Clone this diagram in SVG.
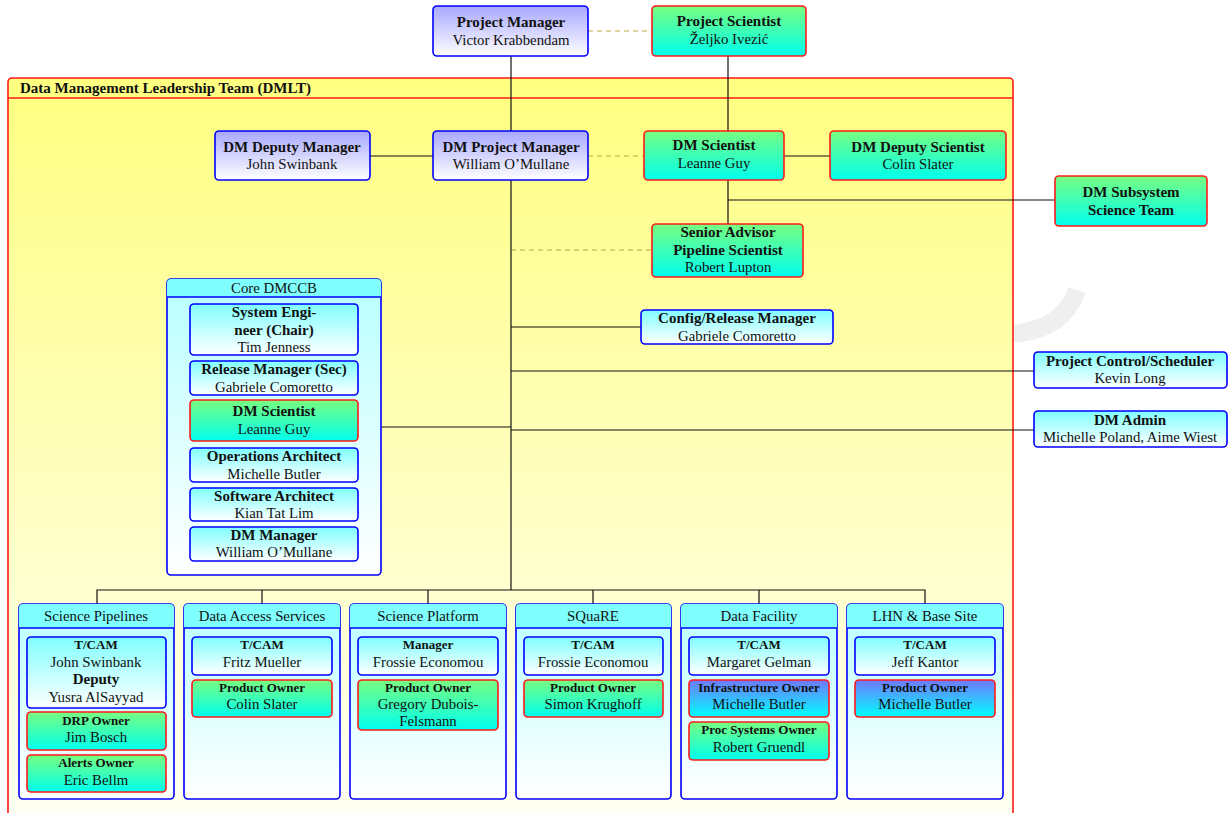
<svg xmlns="http://www.w3.org/2000/svg" width="1231" height="813" viewBox="0 0 1231 813">
<defs>
<linearGradient id="gBlue" x1="0" y1="0" x2="0" y2="1"><stop offset="0" stop-color="#a8a8ff"/><stop offset="1" stop-color="#ffffff"/></linearGradient>
<linearGradient id="gCyan" x1="0" y1="0" x2="0" y2="1"><stop offset="0" stop-color="#80ffff"/><stop offset="1" stop-color="#ffffff"/></linearGradient>
<linearGradient id="gGreen" x1="0" y1="0" x2="0" y2="1"><stop offset="0" stop-color="#78ff80"/><stop offset="1" stop-color="#00ffee"/></linearGradient>
<linearGradient id="gBC" x1="0" y1="0" x2="0" y2="1"><stop offset="0" stop-color="#7078ff"/><stop offset="1" stop-color="#00ffff"/></linearGradient>
<linearGradient id="gCont" x1="0" y1="0" x2="0" y2="1"><stop offset="0" stop-color="#b8ffff"/><stop offset="1" stop-color="#ffffff"/></linearGradient>
<linearGradient id="gDMLT" x1="0" y1="0" x2="0" y2="1"><stop offset="0" stop-color="#ffff80"/><stop offset="1" stop-color="#fffff4"/></linearGradient>
</defs>
<style>
text{font-family:"Liberation Serif","Times New Roman",serif;fill:#111;text-anchor:middle}
.b{font-weight:bold}
.t{font-size:15px}
.r{font-size:14.8px}
.s{font-size:13px}
.bb{stroke:#0000ff;stroke-width:1.6}
.rb{stroke:#ff1a1a;stroke-width:1.6}
.fb{fill:url(#gBlue)}
.fc{fill:url(#gCyan)}
.fg{fill:url(#gGreen)}
.fbc{fill:url(#gBC)}
.con{stroke:#111;stroke-width:1.2;fill:none}
.dash{stroke:#b8a838;stroke-width:1.2;stroke-dasharray:5,4;fill:none}
.hdr{fill:#80ffff}
</style>
<rect width="1231" height="813" fill="#ffffff"/>
<path d="M1010,334 Q1063,331 1077,290" stroke="#efefef" stroke-width="18" fill="none"/>
<g id="dmlt">
<rect x="8" y="78" width="1005" height="745" rx="4" fill="url(#gDMLT)" stroke="#ff1a1a" stroke-width="1.6"/>
<path d="M8,98 H1013" stroke="#ff1a1a" stroke-width="1.6"/>
<text x="20" y="92.5" class="b t" style="text-anchor:start">Data Management Leadership Team (DMLT)</text>
</g>
<g id="connectors">
<path class="con" d="M511,56 V131"/>
<path class="con" d="M728,56 V131"/>
<path class="dash" d="M588,31 H652"/>
<path class="con" d="M370,156 H433"/>
<path class="con" d="M784,156 H830"/>
<path class="dash" d="M588,156 H644"/>
<path class="con" d="M728,180 V224"/>
<path class="con" d="M728,200 H1055"/>
<path class="dash" d="M511,250 H652"/>
<path class="con" d="M511,180 V590"/>
<path class="con" d="M511,327 H641"/>
<path class="con" d="M511,371 H1034"/>
<path class="con" d="M511,430 H1034"/>
<path class="con" d="M381,427 H511"/>
<path class="con" d="M97,604 V590 H925 V604"/>
<path class="con" d="M262,590 V604 M428,590 V604 M593,590 V604 M759,590 V604"/>
</g>
<g id="project-manager">
<rect x="433" y="6" width="155" height="50" rx="4" class="bb fb"/>
<text x="511" y="27" class="b t">Project Manager</text>
<text x="511" y="45" class="r">Victor Krabbendam</text>
</g>
<g id="project-scientist">
<rect x="652" y="6" width="154" height="50" rx="4" class="rb fg"/>
<text x="729" y="26" class="b t">Project Scientist</text>
<text x="729" y="44" class="r">Željko Ivezić</text>
</g>
<g id="dm-deputy-manager">
<rect x="215" y="131" width="155" height="49" rx="4" class="bb fb"/>
<text x="292" y="152" class="b t">DM Deputy Manager</text>
<text x="292" y="169" class="r">John Swinbank</text>
</g>
<g id="dm-project-manager">
<rect x="433" y="131" width="155" height="49" rx="4" class="bb fb"/>
<text x="511" y="152" class="b t">DM Project Manager</text>
<text x="511" y="169" class="r">William O’Mullane</text>
</g>
<g id="dm-scientist">
<rect x="644" y="131" width="140" height="49" rx="4" class="rb fg"/>
<text x="714" y="150" class="b t">DM Scientist</text>
<text x="714" y="168" class="r">Leanne Guy</text>
</g>
<g id="dm-deputy-scientist">
<rect x="830" y="131" width="176" height="49" rx="4" class="rb fg"/>
<text x="918" y="152" class="b t">DM Deputy Scientist</text>
<text x="918" y="169" class="r">Colin Slater</text>
</g>
<g id="dm-subsystem-science-team">
<rect x="1055" y="176" width="152" height="50" rx="4" class="rb fg"/>
<text x="1131" y="197" class="b t">DM Subsystem</text>
<text x="1131" y="215" class="b t">Science Team</text>
</g>
<g id="senior-advisor">
<rect x="652" y="224" width="151" height="53" rx="4" class="rb fg"/>
<text x="728" y="237" class="b t">Senior Advisor</text>
<text x="728" y="255" class="b t">Pipeline Scientist</text>
<text x="728" y="272" class="r">Robert Lupton</text>
</g>
<g id="config-release-manager">
<rect x="641" y="310" width="192" height="34" rx="4" class="bb fc"/>
<text x="737" y="323" class="b t">Config/Release Manager</text>
<text x="737" y="341" class="r">Gabriele Comoretto</text>
</g>
<g id="project-control">
<rect x="1034" y="352" width="193" height="36" rx="4" class="bb fc"/>
<text x="1130" y="366" class="b t">Project Control/Scheduler</text>
<text x="1130" y="383" class="r">Kevin Long</text>
</g>
<g id="dm-admin">
<rect x="1034" y="411" width="193" height="36" rx="4" class="bb fc"/>
<text x="1130" y="425" class="b t">DM Admin</text>
<text x="1130" y="442" class="r">Michelle Poland, Aime Wiest</text>
</g>
<g id="core-dmccb">
<rect x="167" y="279" width="214" height="296" rx="4" fill="url(#gCont)" class="bb"/>
<path d="M167,297 V283 Q167,279 171,279 H377 Q381,279 381,283 V297 Z" class="hdr"/>
<path d="M167,297 H381" class="bb"/>
<text x="274" y="293" class="r">Core DMCCB</text>
<rect x="190" y="304" width="168" height="51" rx="4" class="bb fc"/>
<text x="274" y="317" class="b t">System Engi-</text>
<text x="274" y="335" class="b t">neer (Chair)</text>
<text x="274" y="352" class="r">Tim Jenness</text>
<rect x="190" y="361" width="168" height="34" rx="4" class="bb fc"/>
<text x="274" y="374" class="b t">Release Manager (Sec)</text>
<text x="274" y="392" class="r">Gabriele Comoretto</text>
<rect x="190" y="400" width="168" height="41" rx="4" class="rb fg"/>
<text x="274" y="416" class="b t">DM Scientist</text>
<text x="274" y="434" class="r">Leanne Guy</text>
<rect x="190" y="448" width="168" height="34" rx="4" class="bb fc"/>
<text x="274" y="461" class="b t">Operations Architect</text>
<text x="274" y="479" class="r">Michelle Butler</text>
<rect x="190" y="488" width="168" height="33" rx="4" class="bb fc"/>
<text x="274" y="501" class="b t">Software Architect</text>
<text x="274" y="518" class="r">Kian Tat Lim</text>
<rect x="190" y="527" width="168" height="34" rx="4" class="bb fc"/>
<text x="274" y="540" class="b t">DM Manager</text>
<text x="274" y="557" class="r">William O’Mullane</text>
</g>
<g id="science-pipelines">
<rect x="19" y="604" width="155" height="195" rx="4" fill="url(#gCont)" class="bb"/>
<path d="M19,628 V608 Q19,604 23,604 H170 Q174,604 174,608 V628 Z" class="hdr"/>
<path d="M19,628 H174" class="bb"/>
<text x="96" y="621" class="r">Science Pipelines</text>
<rect x="27" y="637" width="139" height="71" rx="4" class="bb fc"/>
<text x="96" y="649" class="b s">T/CAM</text>
<text x="96" y="667" class="r">John Swinbank</text>
<text x="96" y="684" class="b t">Deputy</text>
<text x="96" y="702" class="r">Yusra AlSayyad</text>
<rect x="27" y="712" width="139" height="38" rx="4" class="rb fg"/>
<text x="96" y="725" class="b s">DRP Owner</text>
<text x="96" y="742" class="r">Jim Bosch</text>
<rect x="27" y="755" width="139" height="37" rx="4" class="rb fg"/>
<text x="96" y="767" class="b s">Alerts Owner</text>
<text x="96" y="785" class="r">Eric Bellm</text>
</g>
<g id="data-access-services">
<rect x="184" y="604" width="156" height="195" rx="4" fill="url(#gCont)" class="bb"/>
<path d="M184,628 V608 Q184,604 188,604 H336 Q340,604 340,608 V628 Z" class="hdr"/>
<path d="M184,628 H340" class="bb"/>
<text x="262" y="621" class="r">Data Access Services</text>
<rect x="192" y="637" width="140" height="38" rx="4" class="bb fc"/>
<text x="262" y="649" class="b s">T/CAM</text>
<text x="262" y="667" class="r">Fritz Mueller</text>
<rect x="192" y="680" width="140" height="37" rx="4" class="rb fg"/>
<text x="262" y="692" class="b s">Product Owner</text>
<text x="262" y="709" class="r">Colin Slater</text>
</g>
<g id="science-platform">
<rect x="350" y="604" width="156" height="195" rx="4" fill="url(#gCont)" class="bb"/>
<path d="M350,628 V608 Q350,604 354,604 H502 Q506,604 506,608 V628 Z" class="hdr"/>
<path d="M350,628 H506" class="bb"/>
<text x="428" y="621" class="r">Science Platform</text>
<rect x="358" y="637" width="140" height="38" rx="4" class="bb fc"/>
<text x="428" y="649" class="b s">Manager</text>
<text x="428" y="667" class="r">Frossie Economou</text>
<rect x="358" y="680" width="140" height="50" rx="4" class="rb fg"/>
<text x="428" y="692" class="b s">Product Owner</text>
<text x="428" y="709" class="r">Gregory Dubois-</text>
<text x="428" y="726" class="r">Felsmann</text>
</g>
<g id="square">
<rect x="516" y="604" width="155" height="195" rx="4" fill="url(#gCont)" class="bb"/>
<path d="M516,628 V608 Q516,604 520,604 H667 Q671,604 671,608 V628 Z" class="hdr"/>
<path d="M516,628 H671" class="bb"/>
<text x="593" y="621" class="r">SQuaRE</text>
<rect x="524" y="637" width="139" height="38" rx="4" class="bb fc"/>
<text x="593" y="649" class="b s">T/CAM</text>
<text x="593" y="667" class="r">Frossie Economou</text>
<rect x="524" y="680" width="139" height="37" rx="4" class="rb fg"/>
<text x="593" y="692" class="b s">Product Owner</text>
<text x="593" y="709" class="r">Simon Krughoff</text>
</g>
<g id="data-facility">
<rect x="681" y="604" width="156" height="195" rx="4" fill="url(#gCont)" class="bb"/>
<path d="M681,628 V608 Q681,604 685,604 H833 Q837,604 837,608 V628 Z" class="hdr"/>
<path d="M681,628 H837" class="bb"/>
<text x="759" y="621" class="r">Data Facility</text>
<rect x="689" y="637" width="140" height="38" rx="4" class="bb fc"/>
<text x="759" y="649" class="b s">T/CAM</text>
<text x="759" y="667" class="r">Margaret Gelman</text>
<rect x="689" y="680" width="140" height="37" rx="4" class="rb fbc"/>
<text x="759" y="692" class="b s">Infrastructure Owner</text>
<text x="759" y="709" class="r">Michelle Butler</text>
<rect x="689" y="722" width="140" height="38" rx="4" class="rb fg"/>
<text x="759" y="734" class="b s">Proc Systems Owner</text>
<text x="759" y="752" class="r">Robert Gruendl</text>
</g>
<g id="lhn-base-site">
<rect x="847" y="604" width="156" height="195" rx="4" fill="url(#gCont)" class="bb"/>
<path d="M847,628 V608 Q847,604 851,604 H999 Q1003,604 1003,608 V628 Z" class="hdr"/>
<path d="M847,628 H1003" class="bb"/>
<text x="925" y="621" class="r">LHN &amp; Base Site</text>
<rect x="855" y="637" width="140" height="38" rx="4" class="bb fc"/>
<text x="925" y="649" class="b s">T/CAM</text>
<text x="925" y="667" class="r">Jeff Kantor</text>
<rect x="855" y="680" width="140" height="37" rx="4" class="rb fbc"/>
<text x="925" y="692" class="b s">Product Owner</text>
<text x="925" y="709" class="r">Michelle Butler</text>
</g>
</svg>
